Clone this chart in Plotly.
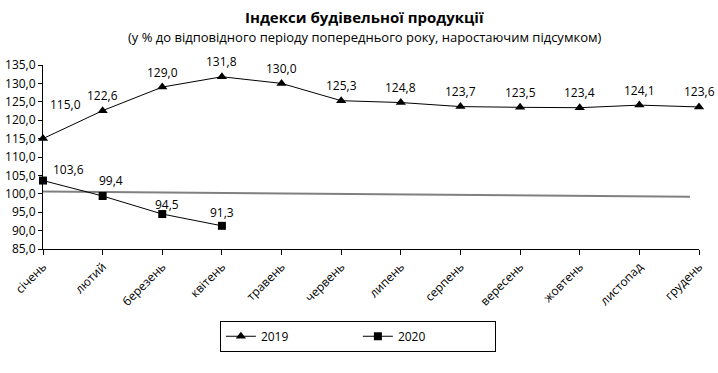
import plotly.graph_objects as go

months = ["січень", "лютий", "березень", "квітень", "травень", "червень",
          "липень", "серпень", "вересень", "жовтень", "листопад", "грудень"]
v2019 = [115.0, 122.6, 129.0, 131.8, 130.0, 125.3, 124.8, 123.7, 123.5, 123.4, 124.1, 123.6]
v2020 = [103.6, 99.4, 94.5, 91.3]
ref_x = [0, 10.85]
ref_y = [100.6, 99.2]
y_ticks = [85, 90, 95, 100, 105, 110, 115, 120, 125, 130, 135]

xs = list(range(len(months)))
FONT = "Open Sans"

fig = go.Figure()
fig.add_trace(go.Scatter(x=ref_x, y=ref_y, mode="lines", line=dict(color="#808080", width=2),
                         showlegend=False, hoverinfo="skip"))
fig.add_trace(go.Scatter(x=xs, y=v2019, mode="lines+markers", name="2019",
                         line=dict(color="black", width=1),
                         marker=dict(symbol="triangle-up", size=9, color="black"),
                         cliponaxis=False))
fig.add_trace(go.Scatter(x=xs[:len(v2020)], y=v2020, mode="lines+markers", name="2020",
                         line=dict(color="black", width=1),
                         marker=dict(symbol="square", size=8, color="black"),
                         cliponaxis=False))

ann = []
for i, v in enumerate(v2019):
    dx, dy = (22, 34) if i == 0 else (0, 15)
    ann.append(dict(x=xs[i], y=v, text=f"{v:.1f}".replace(".", ","), showarrow=False,
                    xshift=dx, yshift=dy, font=dict(size=12, color="black", family=FONT)))
shifts2020 = [(25, 11), (8, 16), (5, 10), (0, 13)]
for i, v in enumerate(v2020):
    dx, dy = shifts2020[i]
    ann.append(dict(x=xs[i], y=v, text=f"{v:.1f}".replace(".", ","), showarrow=False,
                    xshift=dx, yshift=dy, font=dict(size=12, color="black", family=FONT)))

ann.append(dict(x=0.49, y=1, xref="paper", yref="paper", xanchor="center", yanchor="middle", yshift=48,
                text="<b>Індекси будівельної продукції</b>", showarrow=False,
                font=dict(size=15, color="black", family=FONT)))
ann.append(dict(x=0.49, y=1, xref="paper", yref="paper", xanchor="center", yanchor="middle", yshift=28,
                text="(у % до відповідного періоду попереднього року, наростаючим підсумком)",
                showarrow=False, font=dict(size=13, color="black", family=FONT)))

fig.update_layout(
    width=718, height=373,
    margin=dict(l=43, r=19, t=65, b=124),
    paper_bgcolor="white", plot_bgcolor="white",
    font=dict(family=FONT, size=12, color="black"),
    separators=", ",
    annotations=ann,
    showlegend=True,
    legend=dict(orientation="h", x=0.48, xanchor="center", y=-0.39, yanchor="top",
                bordercolor="black", borderwidth=1, entrywidth=92, itemwidth=30,
                font=dict(size=12, color="black", family=FONT)),
    xaxis=dict(range=[0, 11], tickvals=xs, ticktext=months, tickangle=-45, automargin=False,
               showline=True, linecolor="black", linewidth=1, ticks="outside",
               ticklen=5, tickcolor="black", showgrid=False, zeroline=False,
               tickfont=dict(size=12)),
    yaxis=dict(range=[85, 135], tickvals=y_ticks, tickformat=".1f", automargin=False,
               showline=True, linecolor="black", linewidth=1, ticks="outside",
               ticklen=4, tickcolor="black", showgrid=False, zeroline=False,
               tickfont=dict(size=12)),
)
fig.write_html("out.html", config={"displayModeBar": False},
               post_script="document.body.style.margin='0';document.body.style.padding='0';")
